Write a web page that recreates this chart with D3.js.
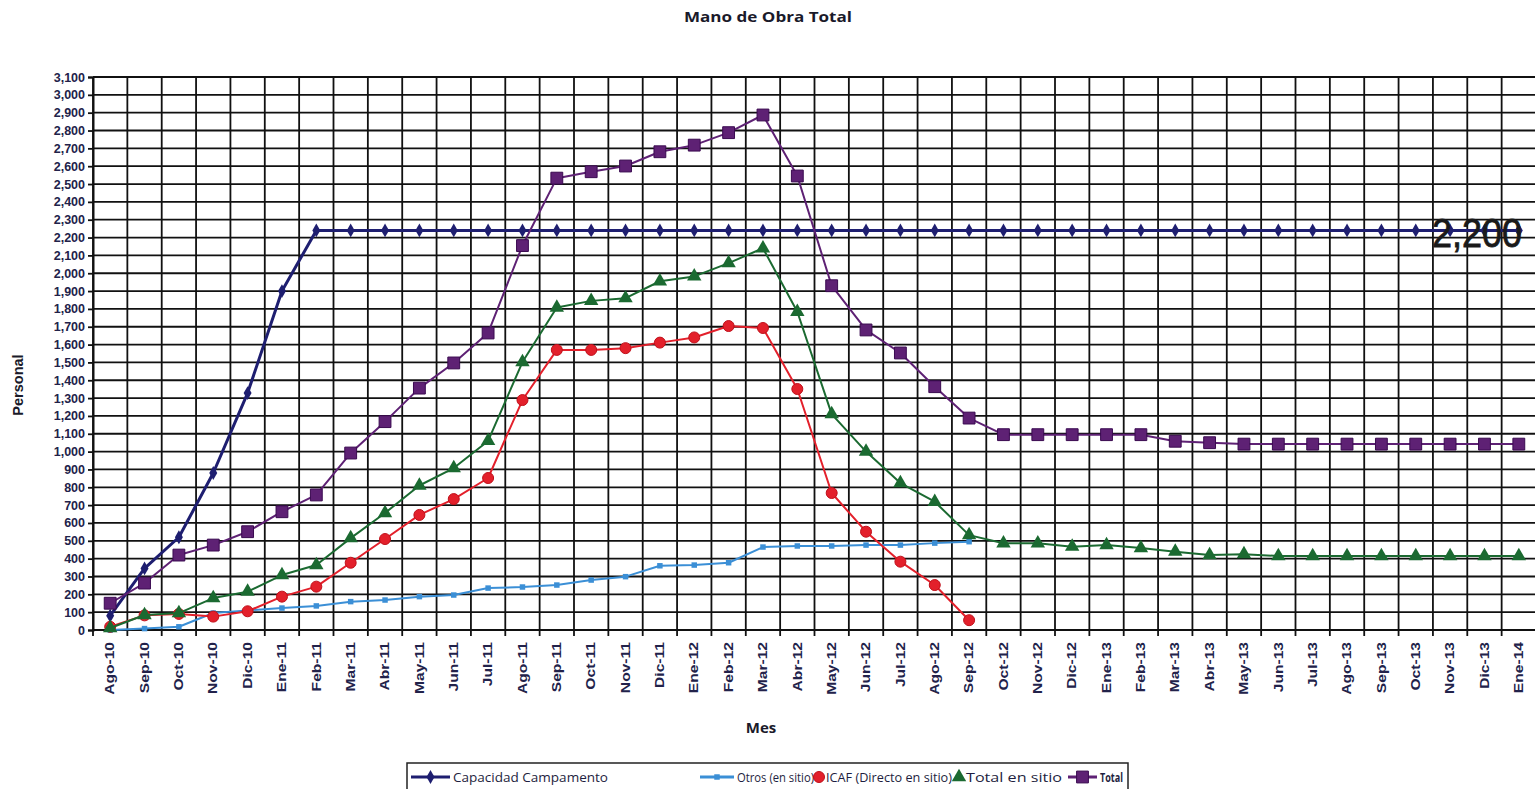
<!DOCTYPE html>
<html>
<head>
<meta charset="utf-8">
<script src="https://cdn.jsdelivr.net/npm/d3@7/dist/d3.min.js"></script>
<style>
  html, body { margin: 0; padding: 0; background: #ffffff; }
  svg { display: block; }
</style>
</head>
<body>
<svg id="chart" width="1535" height="789"></svg>
<script>
const categories = ["Ago-10","Sep-10","Oct-10","Nov-10","Dic-10","Ene-11","Feb-11","Mar-11","Abr-11","May-11","Jun-11","Jul-11","Ago-11","Sep-11","Oct-11","Nov-11","Dic-11","Ene-12","Feb-12","Mar-12","Abr-12","May-12","Jun-12","Jul-12","Ago-12","Sep-12","Oct-12","Nov-12","Dic-12","Ene-13","Feb-13","Mar-13","Abr-13","May-13","Jun-13","Jul-13","Ago-13","Sep-13","Oct-13","Nov-13","Dic-13","Ene-14"];

const capacidad = [80,345,520,880,1328,1900,2240,2240,2240,2240,2240,2240,2240,2240,2240,2240,2240,2240,2240,2240,2240,2240,2240,2240,2240,2240,2240,2240,2240,2240,2240,2240,2240,2240,2240,2240,2240,2240,2240,2240,2240,2240];

const otros = [0,8,18,95,110,123,135,159,168,187,196,235,241,252,280,299,360,364,377,465,471,471,476,476,487,495,null,null,null,null,null,null,null,null,null,null,null,null,null,null,null,null];

const icaf = [18,82,90,75,105,187,243,377,510,645,734,852,1289,1570,1570,1580,1611,1640,1704,1693,1351,768,551,383,252,55,null,null,null,null,null,null,null,null,null,null,null,null,null,null,null,null];

const totalSitio = [11,84,95,179,215,308,364,515,656,810,908,1060,1502,1808,1845,1860,1955,1982,2057,2140,1784,1210,1000,824,719,532,486,486,467,476,459,439,420,425,415,415,415,415,415,415,415,415];

const total = [150,263,420,476,551,663,757,992,1168,1356,1497,1665,2155,2533,2569,2601,2681,2718,2788,2887,2545,1930,1682,1553,1364,1188,1095,1095,1095,1095,1095,1058,1050,1042,1042,1042,1042,1042,1042,1042,1042,1042];

const yTicks = [0,100,200,300,400,500,600,700,800,900,1000,1100,1200,1300,1400,1500,1600,1700,1800,1900,2000,2100,2200,2300,2400,2500,2600,2700,2800,2900,3000,3100];

const capLabel = "2,200";
const legendNames = ["Capacidad Campamento","Otros (en sitio)","ICAF (Directo en sitio)","Total en sitio","Total"];

(function () {
const svg = d3.select("#chart");
const pLeft = 93, pRight = 1536, pTop = 77, pBottom = 630;

const x = d3.scaleBand().domain(categories).range([pLeft, pRight]).padding(0);
const y = d3.scaleLinear().domain([0, 3100]).range([pBottom, pTop]);
const cx = d => x(d) + x.bandwidth() / 2;

// Title
svg.append("text").attr("x", 768).attr("y", 22).attr("text-anchor", "middle")
  .attr("font-family", "'Open Sans', sans-serif").attr("font-weight", "bold")
  .attr("font-size", 14).attr("fill", "#1a1a2a")
  .attr("textLength", 168).attr("lengthAdjust", "spacingAndGlyphs")
  .text("Mano de Obra Total");

// Grid
const grid = svg.append("g");
grid.selectAll("line.h").data(yTicks).join("line")
  .attr("x1", pLeft).attr("x2", pRight).attr("y1", d => y(d)).attr("y2", d => y(d))
  .attr("stroke", "#111").attr("stroke-width", 1.8);
const bounds = categories.map(c => x(c)).concat([pRight]);
grid.selectAll("line.v").data(bounds).join("line")
  .attr("x1", d => d).attr("x2", d => d).attr("y1", pTop).attr("y2", pBottom + 6)
  .attr("stroke", "#111").attr("stroke-width", 1.8);

// Y axis
const yAxis = svg.append("g").attr("transform", `translate(${pLeft},0)`)
  .call(d3.axisLeft(y).tickValues(yTicks).tickSize(5).tickPadding(3).tickFormat(d3.format(",")));
yAxis.select(".domain").attr("stroke", "#111").attr("stroke-width", 2);
yAxis.selectAll(".tick line").attr("stroke", "#111").attr("stroke-width", 1.8);
yAxis.selectAll("text").attr("font-family", "'Liberation Sans', Arial, sans-serif")
  .attr("font-weight", "bold").attr("font-size", 12.5).attr("fill", "#22224a");

// X axis labels
const xAxis = svg.append("g").attr("transform", `translate(0,${pBottom})`)
  .call(d3.axisBottom(x).tickSize(0).tickPadding(0));
xAxis.select(".domain").remove();
xAxis.selectAll(".tick text")
  .attr("font-family", "'Liberation Sans', Arial, sans-serif").attr("font-weight", "bold")
  .attr("font-size", 12).attr("fill", "#22224a")
  .attr("text-anchor", "end").attr("dy", "0.35em").attr("y", 0)
  .attr("transform", "translate(0,12) rotate(-90) scale(1.3,1)");

// Axis titles
svg.append("text").attr("transform", "translate(23,385) rotate(-90)").attr("text-anchor", "middle")
  .attr("font-family", "'Liberation Sans', Arial, sans-serif").attr("font-weight", "bold")
  .attr("font-size", 14.5).attr("fill", "#1a1a2a").text("Personal");
svg.append("text").attr("x", 761).attr("y", 733).attr("text-anchor", "middle")
  .attr("font-family", "'Open Sans', sans-serif").attr("font-weight", "bold")
  .attr("font-size", 15).attr("fill", "#1a1a2a").text("Mes");

// Series
const series = [
  { name: legendNames[0], data: capacidad, color: "#1e1e70", width: 3, marker: "diamond" },
  { name: legendNames[1], data: otros, color: "#3b8fd6", width: 2, marker: "smallsquare" },
  { name: legendNames[2], data: icaf, color: "#e3202b", width: 2, marker: "circle" },
  { name: legendNames[3], data: totalSitio, color: "#1b6a31", width: 2, marker: "triangle" },
  { name: legendNames[4], data: total, color: "#5e2174", width: 2, marker: "square" }
];

function drawMarker(g, type, color, px, py) {
  if (type === "circle") {
    g.append("circle").attr("cx", px).attr("cy", py).attr("r", 5.5)
      .attr("fill", color).attr("stroke", "#c0101a").attr("stroke-width", 1);
  } else {
    let sym, size, stroke = "none";
    if (type === "diamond") { sym = d3.symbolDiamond; size = 55; }
    else if (type === "smallsquare") { sym = d3.symbolSquare; size = 30; }
    else if (type === "triangle") { sym = d3.symbolTriangle; size = 90; }
    else { sym = d3.symbolSquare; size = 140; stroke = "#3a0a50"; }
    g.append("path").attr("d", d3.symbol(sym, size)())
      .attr("transform", `translate(${px},${py})`)
      .attr("fill", color).attr("stroke", stroke).attr("stroke-width", 1);
  }
}

const line = d3.line().defined(d => d.v !== null).x(d => cx(d.c)).y(d => y(d.v));
series.forEach(s => {
  const pts = categories.map((c, i) => ({ c, v: s.data[i] }));
  const g = svg.append("g");
  g.append("path").datum(pts).attr("d", line).attr("fill", "none")
    .attr("stroke", s.color).attr("stroke-width", s.width).attr("stroke-linejoin", "round");
  pts.filter(p => p.v !== null).forEach(p => drawMarker(g, s.marker, s.color, cx(p.c), y(p.v)));
});

// Data label on last capacity point
svg.append("text").attr("x", 1522).attr("y", 247).attr("text-anchor", "end")
  .attr("font-family", "'Liberation Sans Narrow', 'Liberation Sans', Arial, sans-serif")
  .attr("font-size", 40).attr("fill", "#1a1a1a").attr("stroke", "#1a1a1a").attr("stroke-width", 0.8)
  .attr("textLength", 90).attr("lengthAdjust", "spacingAndGlyphs")
  .text(capLabel);

// Legend
const lg = svg.append("g");
lg.append("rect").attr("x", 407).attr("y", 763).attr("width", 721).attr("height", 40)
  .attr("fill", "#fff").attr("stroke", "#222").attr("stroke-width", 1.5);
const legendPos = [
  { lx: 411, tx: 453, tw: 155 },
  { lx: 700, tx: 737, tw: 77 },
  { lx: 813, tx: 826, tw: 126 },
  { lx: 953, tx: 966, tw: 96 },
  { lx: 1068, tx: 1100, tw: 23 }
];
series.forEach((s, i) => {
  const p = legendPos[i];
  const ly = 777;
  const lw = (i === 2 || i === 3) ? 12 : (p.tx - p.lx - 3);
  if (i !== 2 && i !== 3) {
    lg.append("line").attr("x1", p.lx).attr("x2", p.lx + lw).attr("y1", ly).attr("y2", ly)
      .attr("stroke", s.color).attr("stroke-width", 3);
  }
  drawMarker(lg, s.marker, s.color, p.lx + lw / 2, ly);
  lg.append("text").attr("x", p.tx).attr("y", 782)
    .attr("font-family", "'Open Sans', sans-serif").attr("font-size", 13)
    .attr("font-weight", i === 4 ? "bold" : "normal")
    .attr("textLength", p.tw).attr("lengthAdjust", "spacingAndGlyphs")
    .attr("fill", "#1e1e40").text(s.name);
});
})();
</script>
</body>
</html>
